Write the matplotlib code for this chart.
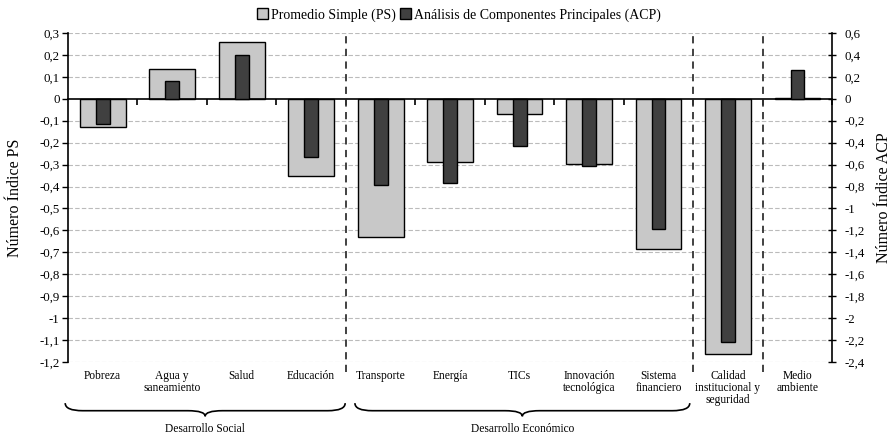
import matplotlib.pyplot as plt
import numpy as np
from matplotlib.path import Path
from matplotlib.patches import PathPatch, Patch
import matplotlib.transforms as mtransforms

plt.rcParams['font.family'] = ['Liberation Serif', 'DejaVu Serif']

categorias = ['Pobreza', 'Agua y\nsaneamiento', 'Salud', 'Educación', 'Transporte',
              'Energía', 'TICs', 'Innovación\ntecnológica', 'Sistema\nfinanciero',
              'Calidad\ninstitucional y\nseguridad', 'Medio\nambiente']
ps = [-0.128, 0.134, 0.258, -0.354, -0.628, -0.286, -0.069, -0.298, -0.686, -1.165, 0.004]
acp = [-0.23, 0.165, 0.398, -0.535, -0.79, -0.768, -0.429, -0.616, -1.186, -2.214, 0.259]
grupos = [('Desarrollo Social', -0.54, 3.49), ('Desarrollo Económico', 3.63, 8.45)]
separadores = [3.5, 8.5, 9.5]

ps_ticks = np.round(np.arange(-1.2, 0.31, 0.1), 1)
acp_ticks = np.round(np.arange(-2.4, 0.61, 0.2), 1)

def coma(v):
    s = ('%g' % v).replace('.', ',')
    return '0' if s in ('-0', '0') else s

fig = plt.figure(figsize=(8.91, 4.37), dpi=100)
ax = fig.add_axes([0.0763, 0.1716, 0.8577, 0.7529])
ax2 = ax.twinx()

x = np.arange(len(categorias))
ax.bar(x, ps, width=0.66, color='#c8c8c8', edgecolor='black', linewidth=1.0, zorder=3)
ax2.bar(x, acp, width=0.2, color='#404040', edgecolor='black', linewidth=1.0, zorder=3)

ax.set_xlim(-0.5, len(categorias) - 0.5)
ax.set_ylim(-1.2, 0.3)
ax2.set_ylim(-2.4, 0.6)

ax.set_yticks(ps_ticks)
ax.set_yticklabels([coma(v) for v in ps_ticks], fontsize=9.3)
ax2.set_yticks(acp_ticks)
ax2.set_yticklabels([coma(v) for v in acp_ticks], fontsize=9.3)

for v in ps_ticks:
    if v != 0:
        ax.axhline(v, color='#bbbbbb', lw=0.8, ls=(0, (4, 2)), zorder=0)

# zero line as the x axis with boundary ticks
ax.spines['bottom'].set_position(('data', 0))
ax.spines['bottom'].set_linewidth(1.2)
ax.spines['bottom'].set_zorder(4)
ax.set_xticks(x + 0.5)
ax.set_xticklabels([])
ax.tick_params(axis='x', length=4, width=1.2, direction='out')
ax.spines['top'].set_visible(False)
ax2.spines['top'].set_visible(False)
ax2.spines['bottom'].set_visible(False)
ax2.spines['left'].set_visible(False)
ax.spines['right'].set_visible(False)
ax.spines['left'].set_linewidth(1.2)
ax2.spines['right'].set_linewidth(1.2)
ax.tick_params(axis='y', length=4, width=1.0, direction='out', pad=2)
ax2.tick_params(axis='y', length=6, width=1.0, direction='inout', pad=6)

trans = mtransforms.blended_transform_factory(ax.transData, ax.transAxes)
for i, c in enumerate(categorias):
    ax.text(i, -0.025, c, transform=trans, ha='center', va='top', fontsize=8.3,
            linespacing=1.0)

for s in separadores:
    ax.axvline(s, ymin=-0.03, ymax=1.0, color='#333333', lw=1.3, ls=(0, (4, 3)),
               clip_on=False, zorder=5)

def llave(x0, x1, texto):
    yt, yb, yp = -0.125, -0.148, -0.165
    xm = (x0 + x1) / 2
    d = 0.25
    verts = [(x0, yt), (x0, yb), (x0 + d, yb),
             (xm - d, yb),
             (xm, yb), (xm, yp),
             (xm, yb), (xm + d, yb),
             (x1 - d, yb),
             (x1, yb), (x1, yt)]
    codes = [Path.MOVETO, Path.CURVE3, Path.CURVE3, Path.LINETO,
             Path.CURVE3, Path.CURVE3, Path.CURVE3, Path.CURVE3,
             Path.LINETO, Path.CURVE3, Path.CURVE3]
    patch = PathPatch(Path(verts, codes), transform=trans, fill=False, lw=1.2,
                      edgecolor='black', clip_on=False)
    ax.add_patch(patch)
    ax.text(xm, -0.205, texto, transform=trans, ha='center', va='center', fontsize=8.3)

for nombre, a, b in grupos:
    llave(a, b, nombre)

ax.set_ylabel('Número Índice PS', fontsize=11.5, labelpad=12)
ax2.set_ylabel('Número Índice ACP', fontsize=11.5, labelpad=8)

handles = [Patch(facecolor='#c8c8c8', edgecolor='black', lw=1.0),
           Patch(facecolor='#404040', edgecolor='black', lw=1.0)]
fig.legend(handles, ['Promedio Simple (PS)', 'Análisis de Componentes Principales (ACP)'],
           loc='upper center', bbox_to_anchor=(0.515, 1.01), ncol=2, frameon=False,
           fontsize=10, handlelength=0.8, handleheight=0.8, handletextpad=0.2,
           columnspacing=0.3)

fig.savefig('out.png', dpi=100)
